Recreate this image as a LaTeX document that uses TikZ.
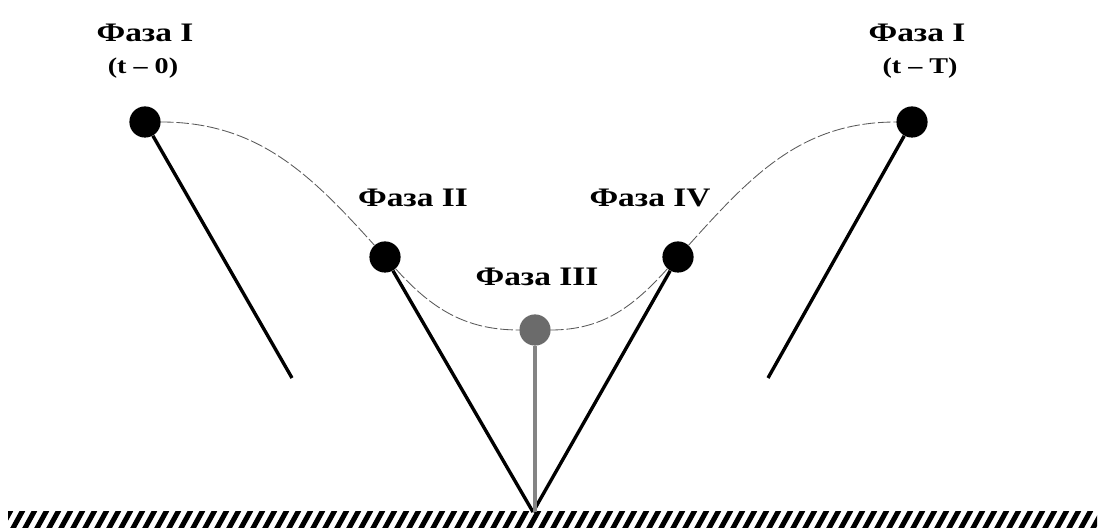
\documentclass[tikz,border=0pt]{standalone}
\usepackage{fontspec}
\setmainfont{Liberation Serif}
\usetikzlibrary{positioning}
\definecolor{ballgray}{HTML}{6B6B6B}
\definecolor{stickgray}{HTML}{848484}
\newcommand{\wide}[1]{\scalebox{1.25}[1]{#1}}

\begin{document}
\begin{tikzpicture}[x=0.025cm,y=0.025cm]
        \useasboundingbox (0,0) rectangle (1103,530);

        % ground
        \begin{scope}
            \clip (8,2) rectangle (1097,18);
            \foreach \x in {0,12,...,1104}
                \draw[line width=3.6pt] (\x,0) -- (\x+11,20);
        \end{scope}
        \coordinate (g) at (533,18);

        \begin{scope}[every node/.style={circle,fill=black,inner sep=0pt,minimum size=0.78cm}]
            \node (1) at (145,408) {};
            \node (2) at (385,273) {};
            \node[fill=ballgray] (3) at (535,200) {};
            \node (4) at (678,273) {};
            \node (5) at (912,408) {};
        \end{scope}
        \coordinate (e1) at (292,152);
        \coordinate (e5) at (768,152);
        \coordinate (g3) at (535,18);

        % trajectory
        \draw[gray!70!black,line width=0.6pt,dash pattern=on 9pt off 2pt]
            (1) to[out=0,in=132] (2)
                to[out=-48,in=180] (3)
                to[out=0,in=228] (4)
                to[out=48,in=180] (5);

        \begin{scope}[line width=2.4pt]
            \draw (1) -- (e1);
            \draw (5) -- (e5);
            \draw (2) -- (g);
            \draw (4) -- (g);
            \draw[stickgray,line width=3.5pt] (3) -- (g3);
        \end{scope}

        \begin{scope}[every node/.style={font=\bfseries\fontsize{19}{22}\selectfont}]
            \node (l1) at (145,497) {\wide{Фаза I}};
            \node[font=\bfseries\fontsize{16}{18}\selectfont] (t1) at (143,462) {\wide{(t – 0)}};
            \node (l5) at (917,497) {\wide{Фаза I}};
            \node[font=\bfseries\fontsize{16}{18}\selectfont] (t5) at (920,462) {\wide{(t – T)}};
            \node (l2) at (413,332) {\wide{Фаза II}};
            \node (l3) at (537,253) {\wide{Фаза III}};
            \node (l4) at (650,332) {\wide{Фаза IV}};
        \end{scope}
    \end{tikzpicture}
\end{document}
